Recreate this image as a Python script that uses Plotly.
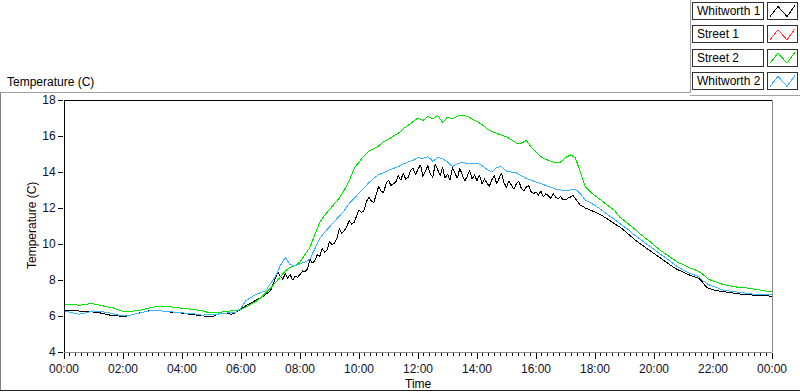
import plotly.graph_objects as go

# ---------------- data ----------------
series_names = ["Whitworth 1", "Street 1", "Street 2", "Whitworth 2"]
series_colors = ["#000000", "#ff3c3c", "#00e600", "#3cb4ff"]

tick_hours = [0, 2, 4, 6, 8, 10, 12, 14, 16, 18, 20, 22, 24]
tick_labels = ["00:00", "02:00", "04:00", "06:00", "08:00", "10:00", "12:00",
               "14:00", "16:00", "18:00", "20:00", "22:00", "00:00"]
y_ticks = [4, 6, 8, 10, 12, 14, 16, 18]

# Street 2 — 10-minute samples, 00:00 .. 24:00
street2 = [
    6.67, 6.65, 6.60, 6.60, 6.62, 6.67,
    6.67, 6.60, 6.55, 6.50, 6.45, 6.35,
    6.25, 6.22, 6.25, 6.30, 6.35, 6.42,
    6.50, 6.55, 6.55, 6.55, 6.50, 6.47,
    6.45, 6.42, 6.38, 6.35, 6.30, 6.22,
    6.20, 6.20, 6.22, 6.25, 6.25, 6.28,
    6.35, 6.50, 6.65, 6.80, 7.00, 7.25,
    7.55, 7.85, 8.20, 8.50, 8.70, 8.80,
    9.00, 9.40, 9.80, 10.50, 11.20, 11.60,
    11.90, 12.20, 12.55, 13.00, 13.50, 14.20,
    14.55, 14.90, 15.15, 15.30, 15.45, 15.70,
    15.80, 16.00, 16.15, 16.40, 16.60, 16.75,
    17.00, 16.85, 17.10, 16.95, 17.15, 16.75,
    17.05, 16.95, 17.10, 17.15, 17.10, 16.95,
    16.80, 16.65, 16.40, 16.25, 16.15, 16.05,
    15.95, 15.80, 15.60, 15.60, 15.75, 15.40,
    15.10, 14.85, 14.70, 14.60, 14.50, 14.55,
    14.80, 14.95, 14.80, 14.00, 13.20, 12.90,
    12.70, 12.50, 12.25, 12.05, 11.85, 11.50,
    11.30, 11.10, 10.85, 10.60, 10.40, 10.15,
    9.95, 9.70, 9.50, 9.30, 9.15, 8.95,
    8.85, 8.70, 8.60, 8.50, 8.30, 8.05,
    7.95, 7.85, 7.75, 7.70, 7.65, 7.60,
    7.60, 7.55, 7.50, 7.45, 7.42, 7.38,
    7.33,
]

# Whitworth 2 — 10-minute samples
whitworth2 = [
    6.28, 6.22, 6.15, 6.10, 6.15, 6.22,
    6.28, 6.25, 6.22, 6.20, 6.12, 6.05,
    6.00, 6.02, 6.08, 6.12, 6.20, 6.28,
    6.32, 6.30, 6.28, 6.25, 6.22, 6.20,
    6.18, 6.15, 6.12, 6.10, 6.05, 6.05,
    6.05, 6.08, 6.15, 6.15, 6.18, 6.22,
    6.45, 6.85, 7.05, 7.20, 7.30, 7.40,
    7.80, 8.20, 8.80, 9.25, 8.85, 8.80,
    8.90, 9.00, 9.15, 9.70, 10.30, 10.65,
    10.95, 11.20, 11.50, 11.85, 12.25, 12.55,
    12.85, 13.15, 13.40, 13.65, 13.85, 13.95,
    14.10, 14.20, 14.30, 14.45, 14.55, 14.65,
    14.80, 14.75, 14.85, 14.60, 14.80, 14.75,
    14.55, 14.30, 14.45, 14.55, 14.45, 14.50,
    14.50, 14.35, 14.15, 14.00, 14.25, 14.30,
    14.05, 14.00, 13.95, 13.80, 13.65, 13.55,
    13.45, 13.35, 13.25, 13.15, 13.05, 13.00,
    12.95, 13.00, 13.05, 12.80, 12.45, 12.30,
    12.15, 11.95, 11.75, 11.55, 11.40, 11.20,
    11.00, 10.75, 10.50, 10.30, 10.05, 9.85,
    9.65, 9.45, 9.25, 9.05, 8.85, 8.70,
    8.55, 8.40, 8.30, 8.20, 7.95, 7.75,
    7.65, 7.55, 7.45, 7.40, 7.35, 7.33,
    7.30, 7.25, 7.22, 7.20, 7.18, 7.17,
    7.17,
]

# Whitworth 1 — 5-minute samples
whitworth1 = [
    6.33, 6.34, 6.35, 6.33, 6.30, 6.29, 6.28, 6.30, 6.30, 6.27, 6.25, 6.23,
    6.22, 6.22, 6.20, 6.16, 6.12, 6.08, 6.05, 6.04, 6.02, 6.01, 6.00, 6.00,
    6.00, 5.98, 6.02, 6.05, 6.08, 6.10, 6.12, 6.16, 6.20, 6.24, 6.28, 6.30,
    6.33, 6.32, 6.30, 6.30, 6.28, 6.26, 6.25, 6.24, 6.22, 6.20, 6.18, 6.18,
    6.17, 6.15, 6.12, 6.10, 6.08, 6.06, 6.05, 6.03, 6.00, 5.98, 5.97, 5.95,
    5.95, 6.00, 6.05, 6.10, 6.17, 6.15, 6.12, 6.10, 6.10, 6.14, 6.20, 6.30,
    6.40, 6.50, 6.60, 6.65, 6.72, 6.80, 6.90, 6.95, 7.00, 7.10, 7.20, 7.30,
    7.40, 7.75, 8.05, 8.45, 8.20, 8.05, 8.35, 8.10, 8.30, 8.00, 8.20, 8.15,
    8.30, 8.50, 8.45, 8.60, 9.15, 8.95, 9.05, 9.40, 9.30, 9.75, 9.55, 9.65,
    10.15, 9.95, 10.05, 10.30, 10.85, 10.60, 10.75, 10.95, 11.30, 11.10, 11.20, 11.55,
    11.90, 11.75, 11.85, 12.35, 12.60, 12.40, 12.30, 12.75, 13.20, 12.95, 12.85, 13.35,
    13.55, 13.25, 13.35, 13.45, 13.80, 13.55, 13.95, 13.60, 13.70, 14.10, 14.20, 13.85,
    14.15, 14.40, 13.75, 14.05, 14.35, 13.90, 13.70, 14.45, 14.10, 13.80, 14.25, 13.65,
    13.90, 13.55, 14.25, 13.95, 13.65, 14.20, 13.85, 13.50, 13.75, 14.10, 13.60, 13.85,
    13.50, 13.85, 13.35, 13.60, 13.40, 13.20, 13.55, 13.80, 13.35, 13.65, 13.95, 13.40,
    13.15, 13.50, 13.30, 13.05, 13.35, 13.50, 13.10, 12.95, 13.15, 13.25, 12.90, 12.80,
    12.90, 12.70, 12.95, 12.60, 12.80, 12.65, 12.55, 12.80, 12.60, 12.50, 12.65, 12.45,
    12.45, 12.55, 12.60, 12.70, 12.55, 12.35, 12.15, 12.10, 12.00, 11.95, 11.90, 11.85,
    11.80, 11.72, 11.65, 11.58, 11.50, 11.40, 11.30, 11.22, 11.15, 11.05, 10.95, 10.85,
    10.75, 10.62, 10.50, 10.38, 10.25, 10.15, 10.05, 9.95, 9.85, 9.75, 9.65, 9.55,
    9.45, 9.38, 9.30, 9.20, 9.10, 9.00, 8.90, 8.80, 8.70, 8.62, 8.55, 8.50,
    8.45, 8.38, 8.30, 8.25, 8.20, 8.15, 8.10, 8.00, 7.80, 7.65, 7.55, 7.50,
    7.45, 7.42, 7.40, 7.38, 7.35, 7.32, 7.30, 7.28, 7.25, 7.22, 7.20, 7.20,
    7.20, 7.19, 7.18, 7.16, 7.15, 7.13, 7.12, 7.11, 7.10, 7.12, 7.10, 7.10,
    7.10,
]

street1 = []  # no data shown

# ---------------- figure ----------------
W, H = 800, 392
L, R, T, B = 64, 28, 100, 40
PW, PH = W - L - R, H - T - B

def px(x):
    return (x - L) / PW

def py(y):
    return (H - B - y) / PH

FONT = "Liberation Sans, Arial, sans-serif"

def hours(vals):
    n = len(vals) - 1
    return [24 * i / n for i in range(len(vals))] if n > 0 else []

fig = go.Figure()
for name, color, vals in zip(series_names, series_colors,
                             [whitworth1, street1, street2, whitworth2]):
    fig.add_trace(go.Scatter(x=hours(vals), y=vals, mode="lines", name=name,
                             line=dict(color=color, width=1), showlegend=False,
                             hoverinfo="skip"))

shapes = []
# plot frame (sunken look)
shapes.append(dict(type="line", xref="paper", yref="paper", x0=0, x1=1, y0=1, y1=1,
                   line=dict(color="black", width=1)))
shapes.append(dict(type="line", xref="paper", yref="paper", x0=0, x1=0, y0=0, y1=1,
                   line=dict(color="black", width=1)))
shapes.append(dict(type="line", xref="paper", yref="paper", x0=1, x1=1, y0=0, y1=1,
                   line=dict(color="#8c8c8c", width=1)))
shapes.append(dict(type="line", xref="paper", yref="paper", x0=0, x1=1, y0=0, y1=0,
                   line=dict(color="#8c8c8c", width=1)))
# outer panel
shapes.append(dict(type="line", xref="paper", yref="paper", x0=px(0), x1=px(690),
                   y0=py(92.5), y1=py(92.5), line=dict(color="#a0a0a0", width=1)))
shapes.append(dict(type="line", xref="paper", yref="paper", x0=px(690), x1=px(690),
                   y0=py(0), y1=py(92.5), line=dict(color="#a0a0a0", width=1)))
shapes.append(dict(type="line", xref="paper", yref="paper", x0=px(690), x1=px(800),
                   y0=py(95.5), y1=py(95.5), line=dict(color="#a0a0a0", width=1)))
shapes.append(dict(type="line", xref="paper", yref="paper", x0=px(0.5), x1=px(0.5),
                   y0=py(92.5), y1=py(390), line=dict(color="#808080", width=1)))
shapes.append(dict(type="line", xref="paper", yref="paper", x0=px(0), x1=px(800),
                   y0=py(390.5), y1=py(390.5), line=dict(color="#202020", width=1)))

annotations = []
# custom legend
for i, (name, color) in enumerate(zip(series_names, series_colors)):
    top = 2.5 + i * 23.3
    bot = top + 17
    shapes.append(dict(type="rect", xref="paper", yref="paper",
                       x0=px(692.5), x1=px(763.5), y0=py(bot), y1=py(top),
                       line=dict(color="#303030", width=1), fillcolor="white"))
    shapes.append(dict(type="rect", xref="paper", yref="paper",
                       x0=px(767.5), x1=px(797.5), y0=py(bot), y1=py(top),
                       line=dict(color="#303030", width=1), fillcolor="white"))
    pts = [(770, bot - 3), (778, top + 4), (787, bot - 3), (795, top + 3)]
    path = "M " + " L ".join(f"{px(a):.5f},{py(b):.5f}" for a, b in pts)
    shapes.append(dict(type="path", xref="paper", yref="paper", path=path,
                       line=dict(color=color, width=1)))
    annotations.append(dict(xref="paper", yref="paper", x=px(695), y=py((top + bot) / 2),
                            text=name, showarrow=False, xanchor="left", yanchor="middle",
                            font=dict(family=FONT, size=12, color="#000000")))

annotations.append(dict(xref="paper", yref="paper", x=px(5), y=py(82), text="Temperature (C)",
                        showarrow=False, xanchor="left", yanchor="middle",
                        font=dict(family=FONT, size=12, color="#000000")))
annotations.append(dict(xref="paper", yref="paper", x=px(32), y=0.5, text="Temperature (C)",
                        showarrow=False, xanchor="center", yanchor="middle", textangle=-90,
                        font=dict(family=FONT, size=12, color="#200000")))
annotations.append(dict(xref="paper", yref="paper", x=0.5, y=py(384), text="Time",
                        showarrow=False, xanchor="center", yanchor="middle",
                        font=dict(family=FONT, size=12, color="#000000")))

fig.update_layout(
    width=W, height=H, autosize=False,
    margin=dict(l=L, r=R, t=T, b=B, pad=0),
    paper_bgcolor="white", plot_bgcolor="white",
    font=dict(family=FONT, size=12, color="#000000"),
    shapes=shapes, annotations=annotations,
    xaxis=dict(range=[0, 24], tickvals=tick_hours, ticktext=tick_labels,
               showgrid=False, zeroline=False, showline=False,
               ticks="outside", ticklen=6, tickcolor="black",
               tickfont=dict(family=FONT, size=12, color="#10102a"),
               minor=dict(dtick=0.2, tick0=0, ticks="outside", ticklen=3,
                          tickcolor="black", showgrid=False)),
    yaxis=dict(range=[4, 18], tickvals=y_ticks,
               showgrid=False, zeroline=False, showline=False,
               ticks="outside", ticklen=5, tickcolor="black",
               tickfont=dict(family=FONT, size=12, color="#10102a")),
    showlegend=False,
    hovermode=False,
)

post = (
    "document.body.style.margin='0';document.body.style.padding='0';"
    "document.querySelectorAll('.scatterlayer path, .layer-above path')"
    ".forEach(function(p){p.style.shapeRendering='crispEdges';});"
)

fig.write_html(
    "out.html",
    config={"displayModeBar": False, "staticPlot": True},
    post_script=post,
)
